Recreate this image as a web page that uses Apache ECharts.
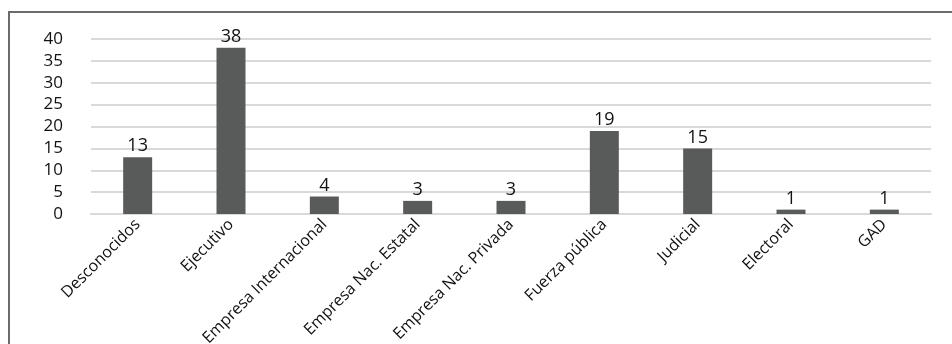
<!DOCTYPE html>
<html>
<head>
<meta charset="utf-8">
<script src="https://cdn.jsdelivr.net/npm/echarts@6/dist/echarts.min.js"></script>
<style>
  html, body { margin: 0; padding: 0; background: #ffffff; }
  #wrap { position: relative; width: 952px; height: 344px; overflow: hidden; }
  #frame { position: absolute; left: 8px; top: 11px; width: 1000px; height: 400px;
           border-left: 2px solid #6b6b6b; border-top: 2px solid #6b6b6b; box-sizing: border-box; }
  #chart { position: absolute; left: 0; top: 0; width: 952px; height: 344px; }
</style>
</head>
<body>
<div id="wrap">
  <div id="frame"></div>
  <div id="chart"></div>
</div>
<script>
// Actores
const categories = ['Desconocidos', 'Ejecutivo', 'Empresa Internacional', 'Empresa Nac. Estatal',
  'Empresa Nac. Privada', 'Fuerza pública', 'Judicial', 'Electoral', 'GAD'];
const values = [13, 38, 4, 3, 3, 19, 15, 1, 1];
const yTicks = { min: 0, max: 40, interval: 5 };

const FONT = '"Open Sans", "Noto Sans", sans-serif';
const chart = echarts.init(document.getElementById('chart'), null, { renderer: 'canvas' });
chart.setOption({
  animation: false,
  backgroundColor: 'transparent',
  grid: { left: 91, right: 21, top: 39, bottom: 130, containLabel: false, outerBoundsMode: 'none' },
  xAxis: {
    type: 'category',
    data: categories,
    axisLine: { show: true, lineStyle: { color: '#d9d9d9', width: 2 } },
    axisTick: { show: false },
    axisLabel: {
      interval: 0, rotate: 45, margin: 8,
      color: '#111', fontFamily: FONT, fontSize: 16
    }
  },
  yAxis: {
    type: 'value',
    min: yTicks.min, max: yTicks.max, interval: yTicks.interval,
    axisLine: { show: false },
    axisTick: { show: false },
    splitLine: { lineStyle: { color: '#d9d9d9', width: 2 } },
    axisLabel: { margin: 28, color: '#111', fontFamily: FONT, fontSize: 17 }
  },
  series: [{
    type: 'bar',
    data: values,
    barWidth: 29,
    itemStyle: { color: '#595b5b' },
    label: {
      show: true, position: 'top', distance: 2,
      color: '#111', fontFamily: FONT, fontSize: 18
    }
  }]
});
</script>
</body>
</html>
